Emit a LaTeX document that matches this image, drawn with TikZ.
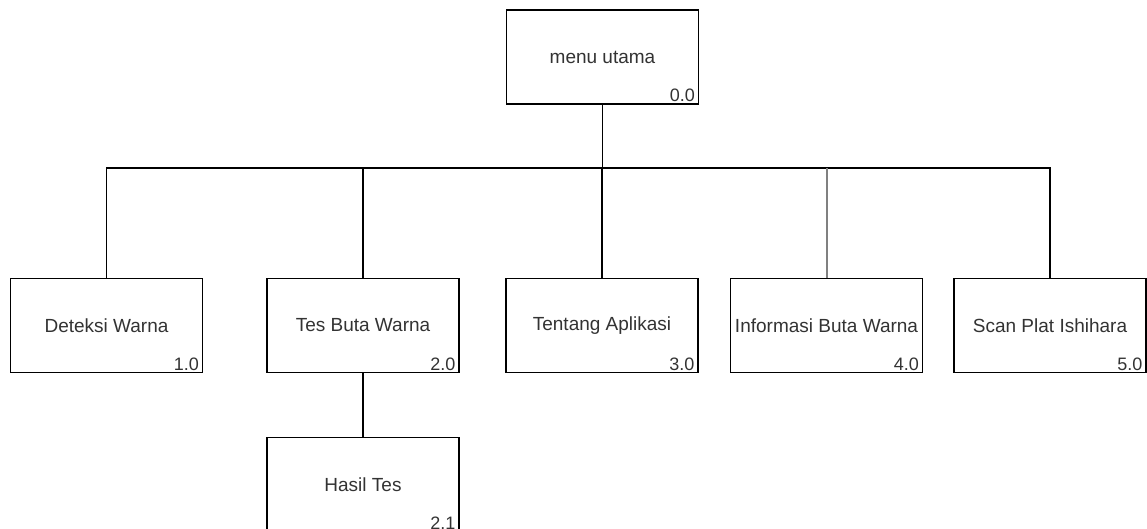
\documentclass[tikz,border=0pt]{standalone}
\usepackage{fontspec}
\setmainfont{Liberation Sans}
\definecolor{txt}{HTML}{333333}
\definecolor{graylink}{HTML}{808080}
\begin{document}
\begin{tikzpicture}[x=1pt,y=-1pt,
  box/.style={draw=black,line width=1.2pt,minimum width=192pt,minimum height=94pt,inner sep=0pt,text=txt,font=\fontsize{19}{22}\selectfont},
  num/.style={anchor=base east,inner sep=0pt,text=txt,font=\fontsize{18}{20}\selectfont},
  link/.style={line width=1.2pt,draw=black},
  graylinkstyle/.style={line width=2pt,draw=graylink}]
\useasboundingbox (0,0) rectangle (1147,529);
\clip (0,0) rectangle (1147,529);
\fill[white] (0,0) rectangle (1147,529);
\coordinate (bar) at (0,168);
% nodes
\node[box] (m) at (602.5,57) {menu utama};
\node[num] (m0) at ([xshift=-4pt,yshift=3pt]m.south east) {0.0};
\node[box] (d) at (106.5,325.5) {Deteksi Warna};
\node[num] (d0) at ([xshift=-4pt,yshift=3pt]d.south east) {1.0};
\node[box] (t) at (363,325.5) {Tes Buta Warna};
\node[num] (t0) at ([xshift=-4pt,yshift=3pt]t.south east) {2.0};
\node[box] (a) at (602,325.5) {Tentang Aplikasi};
\node[num] (a0) at ([xshift=-4pt,yshift=3pt]a.south east) {3.0};
\node[box] (i) at (826.5,325.5) {Informasi Buta Warna};
\node[num] (i0) at ([xshift=-4pt,yshift=3pt]i.south east) {4.0};
\node[box] (s) at (1050,325.5) {Scan Plat Ishihara};
\node[num] (s0) at ([xshift=-4pt,yshift=3pt]s.south east) {5.0};
\node[box] (h) at (363,484.5) {Hasil Tes};
\node[num] (h0) at ([xshift=-4pt,yshift=3pt]h.south east) {2.1};
% connectors
\draw[link] (m.south) -- (m.south |- bar);
\draw[link] (d.north) -- (d.north |- bar) -- (s.north |- bar) -- (s.north);
\draw[link] (t.north) -- (t.north |- bar);
\draw[link] (a.north) -- (a.north |- bar);
\draw[graylinkstyle] (i.north) -- (i.north |- bar);
\draw[link] (t.south) -- (h.north);
\end{tikzpicture}
\end{document}
